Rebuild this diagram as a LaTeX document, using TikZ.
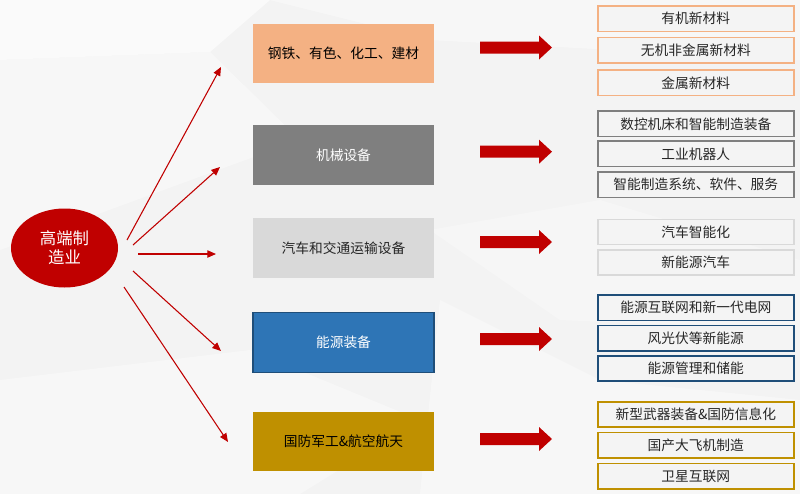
\documentclass[tikz,border=0pt]{standalone}
\usepackage{fontspec}
\setmainfont{Noto Sans CJK SC}
\usetikzlibrary{arrows.meta,shapes.geometric}
\definecolor{bgc}{HTML}{F3F3F3}
\definecolor{redc}{HTML}{C00000}
\definecolor{orgc}{HTML}{F4B183}
\definecolor{grayc}{HTML}{7F7F7F}
\definecolor{lgrayc}{HTML}{D9D9D9}
\definecolor{bluec}{HTML}{2E75B6}
\definecolor{dbluec}{HTML}{1F4E79}
\definecolor{goldc}{HTML}{BF9000}
\definecolor{txtc}{HTML}{262626}
\definecolor{smallfill}{HTML}{F4F4F4}
\tikzset{
  midbox/.style={rectangle, minimum width=135.75pt, minimum height=44.6pt, inner sep=0pt, font=\fontsize{10.3pt}{12pt}\selectfont},
  smallbox/.style={rectangle, draw=#1, line width=1.1pt, fill=smallfill, minimum width=147pt, minimum height=19pt, inner sep=0pt, text=txtc, font=\fontsize{10.3pt}{12pt}\selectfont},
  thinarrow/.style={draw=redc, line width=0.8pt, -{Triangle[length=6.5pt,width=5.5pt]}},
  blockarrow/.style={fill=redc}
}
\begin{document}
\begin{tikzpicture}[x=0.75pt,y=-0.75pt]
\useasboundingbox (0,0) rectangle (800,494);
% background
\fill[bgc] (0,0) rectangle (800,494);
\fill[white,opacity=0.6] (0,0) -- (270,0) -- (210,52) -- (0,60) -- cycle;
\fill[white,opacity=0.4] (270,0) -- (800,0) -- (800,60) -- (430,40) -- cycle;
\fill[white,opacity=0.35] (0,60) -- (210,52) -- (300,140) -- (0,250) -- cycle;
\fill[white,opacity=0.35] (0,380) -- (250,350) -- (420,420) -- (300,494) -- (0,494) -- cycle;
\fill[white,opacity=0.3] (430,230) -- (600,200) -- (800,260) -- (800,330) -- (560,320) -- cycle;
\fill[white,opacity=0.4] (440,300) -- (600,380) -- (800,400) -- (800,494) -- (420,494) -- cycle;

% central ellipse
\node[ellipse, fill=redc, minimum width=80.25pt, minimum height=59.25pt, inner sep=0pt, text=white, align=center, font=\fontsize{12.3pt}{14.5pt}\selectfont] (core) at (64.5,248) {高端制\\造业};

% middle boxes
\node[midbox, fill=orgc, text=black] (m1) at (343.5,53.5) {钢铁、有色、化工、建材};
\node[midbox, fill=grayc, text=white] (m2) at (343.5,155) {机械设备};
\node[midbox, fill=lgrayc, text=txtc] (m3) at (343.5,248) {汽车和交通运输设备};
\node[midbox, fill=bluec, draw=dbluec, line width=0.8pt, text=white] (m4) at (343.5,342.5) {能源装备};
\node[midbox, fill=goldc, text=black] (m5) at (343.5,441.5) {国防军工\&航空航天};

% thin arrows
\coordinate (s1) at (127,240); \coordinate (t1) at (221,67);
\coordinate (s2) at (133,245); \coordinate (t2) at (220,167);
\coordinate (s3) at (138,254); \coordinate (t3) at (216,254);
\coordinate (s4) at (133,271); \coordinate (t4) at (221,351);
\coordinate (s5) at (124,287); \coordinate (t5) at (228,442);
\foreach \i in {1,...,5} { \draw[thinarrow] (s\i) -- (t\i); }

% block arrows
\foreach \y in {47.5,151.7,242,339,439} {
  \fill[blockarrow] (480,\y-6) -- (539,\y-6) -- (539,\y-12) -- (552,\y) -- (539,\y+12) -- (539,\y+6) -- (480,\y+6) -- cycle;
}

% right boxes
\node[smallbox=orgc] (r11) at (695.8,18.7) {有机新材料};
\node[smallbox=orgc] (r12) at (695.8,50.3) {无机非金属新材料};
\node[smallbox=orgc] (r13) at (695.8,82.8) {金属新材料};
\node[smallbox=grayc] (r21) at (695.8,123.8) {数控机床和智能制造装备};
\node[smallbox=grayc] (r22) at (695.8,153.8) {工业机器人};
\node[smallbox=grayc] (r23) at (695.8,184.7) {智能制造系统、软件、服务};
\node[smallbox=lgrayc] (r31) at (695.8,232) {汽车智能化};
\node[smallbox=lgrayc] (r32) at (695.8,262.5) {新能源汽车};
\node[smallbox=dbluec] (r41) at (695.8,307.8) {能源互联网和新一代电网};
\node[smallbox=dbluec] (r42) at (695.8,338.2) {风光伏等新能源};
\node[smallbox=dbluec] (r43) at (695.8,368.5) {能源管理和储能};
\node[smallbox=goldc] (r51) at (695.8,414.5) {新型武器装备\&国防信息化};
\node[smallbox=goldc] (r52) at (695.8,445.3) {国产大飞机制造};
\node[smallbox=goldc] (r53) at (695.8,476.3) {卫星互联网};
\end{tikzpicture}
\end{document}
